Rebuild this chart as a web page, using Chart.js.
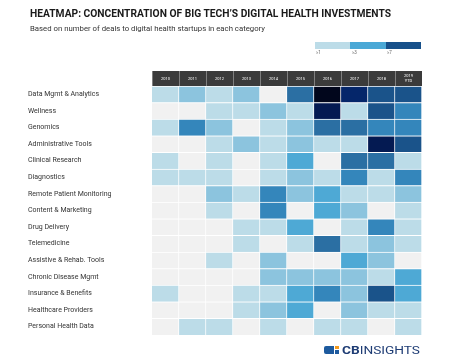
<!DOCTYPE html>
<html>
<head>
<meta charset="utf-8">
<script src="https://cdn.jsdelivr.net/npm/chart.js@4/dist/chart.umd.min.js"></script>
<style>
  html,body{margin:0;padding:0;background:#fff;}
  #wrap{position:relative;width:451px;height:361px;overflow:hidden;font-family:Roboto,"Liberation Sans",sans-serif;}
  #chart{position:absolute;left:0;top:0;}
  .fit{position:absolute;white-space:nowrap;line-height:1;transform-origin:0 0;}
  #title{left:30px;top:8px;font-size:11.5px;font-weight:700;color:#1a1a1a;}
  #sub{left:30px;top:25px;font-size:8px;color:#333;}
  #legend{position:absolute;left:315px;top:42px;width:106px;height:7px;display:flex;}
  #legend div{flex:1;height:7px;}
  .ll{position:absolute;top:51px;font-size:4.5px;color:#666;line-height:1;}
  .lg{position:absolute;}
  #brand{left:342px;top:344.5px;font-size:11.3px;color:#1e3c74;}
</style>
</head>
<body>
<div id="wrap">
  <canvas id="chart" width="451" height="361"></canvas>
  <div id="title" class="fit" data-w="361">HEATMAP: CONCENTRATION OF BIG TECH’S DIGITAL HEALTH INVESTMENTS</div>
  <div id="sub" class="fit" data-w="235">Based on number of deals to digital health startups in each category</div>
  <div id="legend"><div style="background:#bcdce8"></div><div style="background:#4aa8d6"></div><div style="background:#17508a"></div></div>
  <div class="ll" style="left:316px">≥1</div>
  <div class="ll" style="left:352px">≥3</div>
  <div class="ll" style="left:387px">≥7</div>
  <div class="lg" style="left:324px;top:346px;width:10px;height:8px;background:#1d5a9e;border-radius:2px 0 0 2px"></div>
  <div class="lg" style="left:335px;top:346px;width:4px;height:3px;background:#f39a1e"></div>
  <div class="lg" style="left:335px;top:350px;width:4px;height:4px;background:#1d5a9e"></div>
  <div id="brand" class="fit" data-w="78"><b>CB</b>INSIGHTS</div>
</div>
<script>
// ---- data ----
const years = ['2010','2011','2012','2013','2014','2015','2016','2017','2018','2019'];
const yearLabels = ['2010','2011','2012','2013','2014','2015','2016','2017','2018',['2019','YTD']];
const categories = ['Data Mgmt & Analytics','Wellness','Genomics','Administrative Tools','Clinical Research','Diagnostics','Remote Patient Monitoring','Content & Marketing','Drug Delivery','Telemedicine','Assistive & Rehab. Tools','Chronic Disease Mgmt','Insurance & Benefits','Healthcare Providers','Personal Health Data'];
const dataMgmt     = [1,2,1,2,0,6,15,11,8,8];
const wellness     = [0,0,1,1,2,1,12,1,8,5];
const genomics     = [1,5,2,0,1,2,6,6,5,5];
const adminTools   = [0,0,1,2,1,2,1,1,12,8];
const clinical     = [1,0,1,0,1,3,0,6,6,1];
const diagnostics  = [1,1,1,0,1,2,1,5,1,5];
const remoteMon    = [0,0,2,1,5,2,3,1,1,2];
const content      = [0,0,1,0,5,0,3,2,0,1];
const drugDelivery = [0,0,0,1,1,3,0,1,5,1];
const telemedicine = [0,0,0,1,0,1,6,1,2,1];
const assistive    = [0,0,1,0,2,0,0,3,2,0];
const chronic      = [0,0,0,0,2,2,2,2,1,3];
const insurance    = [1,0,0,1,1,3,5,2,8,3];
const providers    = [0,0,0,1,2,3,0,2,1,1];
const personal     = [0,1,1,0,1,0,1,1,0,1];
const matrix = [dataMgmt,wellness,genomics,adminTools,clinical,diagnostics,remoteMon,content,drugDelivery,telemedicine,assistive,chronic,insurance,providers,personal];

const palette = ['#f1f1f1','#bcdce8','#8cc4de','#4ea9d5','#45a0ce','#3486bb','#2b6fa3','#215f95','#1a538a','#123f78','#0b306c','#05266a','#041a52','#03113a','#020b2a','#01061c'];
function colorFor(v){ return palette[Math.max(0, Math.min(palette.length-1, v))]; }

Chart.defaults.font.family = 'Roboto, "Liberation Sans", sans-serif';

const datasets = years.map((y, j) => ({
  label: y,
  data: categories.map(() => 1),
  backgroundColor: ctx => colorFor(matrix[ctx.dataIndex][j]),
  borderColor: '#ffffff',
  borderWidth: {top:1, right:1, bottom:0, left:0},
  borderSkipped: false,
  barPercentage: 1,
  categoryPercentage: 1
}));

new Chart(document.getElementById('chart'), {
  type: 'bar',
  data: { labels: categories, datasets },
  options: {
    indexAxis: 'y',
    responsive: false,
    animation: false,
    events: [],
    layout: { padding: { left: 28, right: 29, top: 71, bottom: 26 } },
    plugins: { legend: { display: false }, tooltip: { enabled: false }, title: { display: false } },
    scales: {
      x: {
        type: 'linear', position: 'top', stacked: true, min: 0, max: 10,
        backgroundColor: '#3b3b3b',
        afterBuildTicks: s => { s.ticks = years.map((y, i) => ({ value: i + 0.5 })); },
        afterFit: s => { s.height = 15; },
        ticks: {
          autoSkip: false, maxRotation: 0, minRotation: 0,
          color: '#ffffff', font: { size: 4 }, padding: -10, crossAlign: 'center',
          callback: (v, i) => yearLabels[i]
        },
        grid: { display: true, drawOnChartArea: false, drawTicks: true, tickLength: 15, offset: true, color: 'rgba(255,255,255,0.35)' },
        border: { display: false }
      },
      y: {
        type: 'category', stacked: true,
        afterFit: s => { s.width = 124; },
        ticks: { crossAlign: 'far', color: '#333', font: { size: 7 }, padding: 0, autoSkip: false },
        grid: { display: false, drawTicks: false },
        border: { display: false }
      }
    }
  }
});

// fit header texts to their reference widths
document.querySelectorAll('.fit').forEach(el => {
  const w = el.getBoundingClientRect().width;
  const target = +el.dataset.w;
  if (w > 0) el.style.transform = 'scaleX(' + (target / w) + ')';
});
</script>
</body>
</html>
